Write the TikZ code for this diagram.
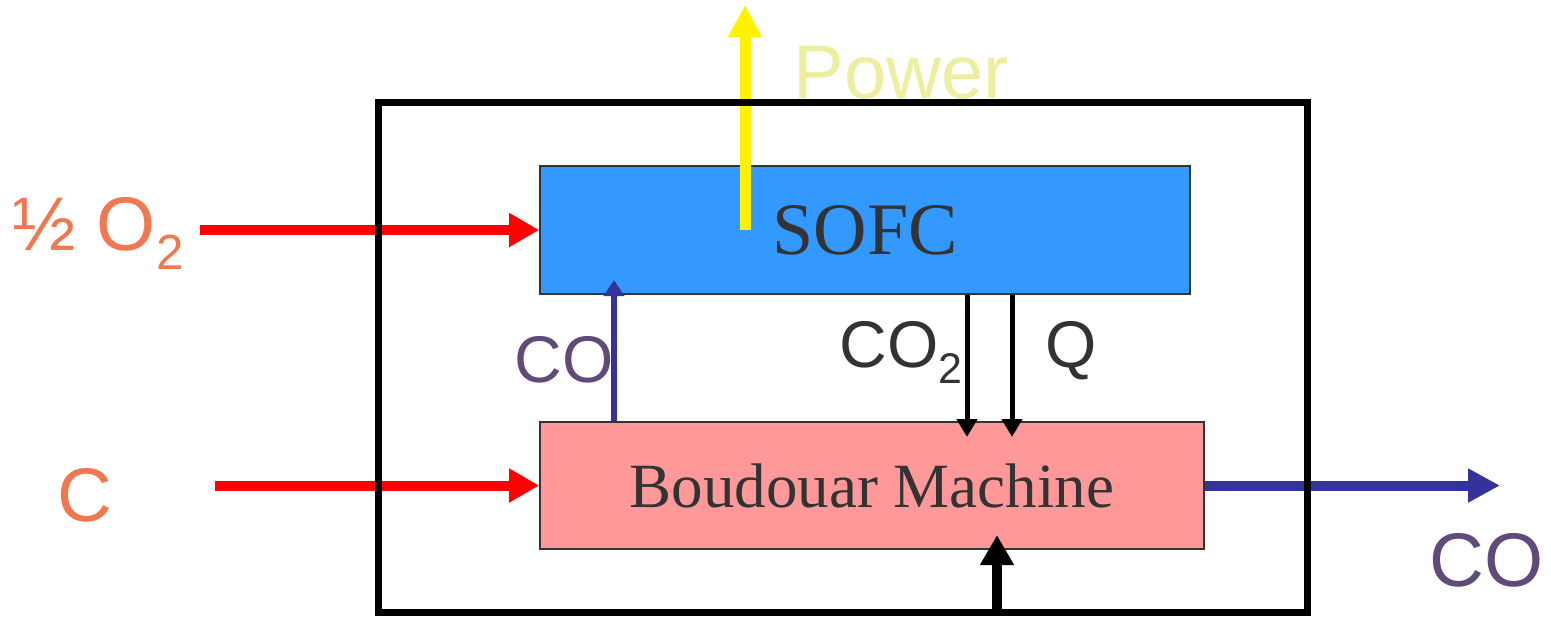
\documentclass[tikz,border=0pt]{standalone}
\usepackage{fontspec}
\setmainfont{Liberation Sans}
\newfontfamily\boxfont{Liberation Serif}
\usetikzlibrary{arrows.meta}
\definecolor{sofcblue}{HTML}{3399FF}
\definecolor{bmpink}{HTML}{FF9999}
\definecolor{feedred}{HTML}{FF0000}
\definecolor{conavy}{HTML}{333399}
\definecolor{labelorange}{HTML}{F07850}
\definecolor{labelpurple}{HTML}{5F4A7B}
\definecolor{labelgray}{HTML}{333333}
\definecolor{powerpale}{HTML}{EEEEA0}
\newcommand{\subtwo}{\raisebox{-0.25em}{\scalebox{0.65}{2}}}
\tikzset{
  unitbox/.style={draw=labelgray, line width=0.8pt, inner sep=0pt, text=labelgray},
  lbl/.style={inner sep=0pt, anchor=base west},
  bigflow/.style={line width=5pt, -{Triangle[length=15pt,width=16pt]}},
  smallflow/.style={line width=2.5pt, -{Triangle[length=9pt,width=10pt]}}
}

\begin{document}
\begin{tikzpicture}[x=0.5pt,y=-0.5pt]
\useasboundingbox (0,0) rectangle (1551,618);

% the two units
\node[unitbox, fill=sofcblue, minimum width=325pt, minimum height=64pt,
  font=\boxfont\fontsize{37}{40}\selectfont] (sofc) at (865,230) {SOFC};
\node[unitbox, fill=bmpink, minimum width=332pt, minimum height=63.5pt,
  font=\boxfont\fontsize{31.5}{34}\selectfont] (bm) at (872,485.5) {Boudouar Machine};

% free ends
\coordinate (o2in) at (200,230);
\coordinate (cin) at (215,485.5);
\coordinate (pwbase) at (745,230);
\coordinate (pwtip) at (745,5);
\coordinate (cotip) at (614,280);
\coordinate (cotwotip) at (967,437);
\coordinate (qtip) at (1012,437);
\coordinate (coout) at (1500,485.5);
\coordinate (heatin) at (997,612);
\coordinate (heattip) at (997,535);

% feeds
\draw[bigflow, feedred] (o2in) -- (sofc.west);
\draw[bigflow, feedred] (cin) -- (bm.west);
\draw[line width=5.5pt, yellow, -{Triangle[length=16pt,width=16pt]}] (pwbase) -- (pwtip);
\draw[line width=3pt, conavy, -{Triangle[length=8pt,width=10pt]}] (cotip |- bm.north) -- (cotip);
\draw[smallflow] (cotwotip |- sofc.south) -- (cotwotip);
\draw[smallflow] (qtip |- sofc.south) -- (qtip);
\draw[line width=5pt, conavy, -{Triangle[length=16pt,width=16pt]}] (bm.east) -- (coout);
\draw[bigflow] (heatin) -- (heattip);

% plant boundary
\draw[line width=3.5pt] (378,102) rectangle (1307,612);

% labels
\node[lbl, text=labelorange, font=\fontsize{38}{42}\selectfont] (halfo2) at (12,250) {½ O\subtwo};
\node[lbl, text=labelorange, font=\fontsize{38}{42}\selectfont] (clbl) at (57,521) {C};
\node[lbl, text=labelpurple, font=\fontsize{33}{36}\selectfont] (colbl) at (514,382) {CO};
\node[lbl, text=labelgray, font=\fontsize{33}{36}\selectfont] (cotwolbl) at (839,367) {CO\subtwo};
\node[lbl, text=labelgray, font=\fontsize{33}{36}\selectfont] (qlbl) at (1045,367) {Q};
\node[lbl, text=powerpale, font=\fontsize{38}{42}\selectfont] (powerlbl) at (793,98) {Power};
\node[lbl, text=labelpurple, font=\fontsize{38}{42}\selectfont] (cooutlbl) at (1429,586) {CO};
\end{tikzpicture}
\end{document}
